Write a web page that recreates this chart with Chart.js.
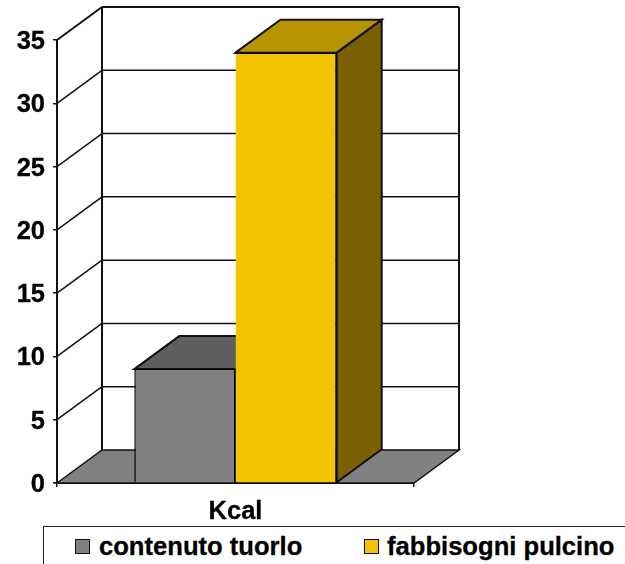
<!DOCTYPE html>
<html>
<head>
<meta charset="utf-8">
<title>Kcal</title>
<script src="https://cdn.jsdelivr.net/npm/chart.js@4"></script>
<style>
    html, body { margin: 0; padding: 0; background: #fff; overflow: hidden; }
    #wrap { position: relative; width: 625px; height: 564px; overflow: hidden; }
    #legenda {
        position: absolute; left: 43px; top: 526px; width: 640px; height: 60px;
        border: 1.5px solid #222; box-sizing: border-box; background: #fff;
        font: bold 25.6px "Liberation Sans", Arial, sans-serif; color: #000;
        -webkit-text-stroke: 0.3px #000;
    }
    #legenda span { position: absolute; top: 4px; line-height: 30px; white-space: nowrap; }
    #legenda i { position: absolute; top: 12px; width: 15px; height: 15px; box-sizing: border-box; border: 1.5px solid #111; }
</style>
</head>
<body>
<div id="wrap">
    <canvas id="grafico" width="625" height="564"></canvas>
    <div id="legenda"></div>
</div>
<script>
const categorie = ["Kcal"];
const nomiSerie = ["contenuto tuorlo", "fabbisogni pulcino"];
const tuorlo = [9];
const pulcino = [34];
const valoreMax = 35;
const passoAsse = 5;

const coloriFronte = ["#808080", "#F4C400"];
const coloriSopra = ["#5F5F5F", "#B89400"];
const coloriLato = ["#404040", "#7A6000"];
const fontAssi = { family: "'Liberation Sans', Arial, sans-serif", size: 25.5, weight: "bold" };

// profondita' della scatola 3D
const profX = 45;
const profY = 33;

function poligono(ctx, punti, riempi) {
    ctx.beginPath();
    punti.forEach(function (p, i) {
        if (i === 0) ctx.moveTo(p[0], p[1]);
        else ctx.lineTo(p[0], p[1]);
    });
    ctx.closePath();
    if (riempi) { ctx.fillStyle = riempi; ctx.fill(); }
    ctx.stroke();
}

function linea(ctx, x1, y1, x2, y2) {
    ctx.beginPath();
    ctx.moveTo(x1, y1);
    ctx.lineTo(x2, y2);
    ctx.stroke();
}

// pareti, pavimento e facce superiori/laterali delle barre
const scatola3d = {
    id: "scatola3d",
    // le etichette dell'asse y stanno un po' sotto la tacca
    afterLayout(chart) {
        chart.scales.y.getLabelItems().forEach(function (item) {
            item.options.translation[1] += 2;
        });
    },
    beforeDatasetsDraw(chart) {
        const ctx = chart.ctx;
        const yScale = chart.scales.y;
        const area = chart.chartArea;
        const base = yScale.getPixelForValue(0);
        const cima = yScale.getPixelForValue(valoreMax);

        ctx.save();
        ctx.strokeStyle = "#111";
        ctx.lineJoin = "miter";

        ctx.lineWidth = 1.5;
        for (let v = passoAsse; v < valoreMax; v += passoAsse) {
            const y = yScale.getPixelForValue(v);
            linea(ctx, area.left, y, area.left + profX, y - profY);
            linea(ctx, area.left + profX, y - profY, area.right + profX, y - profY);
        }

        poligono(ctx, [
            [area.left, base], [area.left + profX, base - profY],
            [area.right + profX, base - profY], [area.right, base]
        ], "#808080");

        ctx.lineWidth = 2;
        linea(ctx, area.left, cima, area.left + profX, cima - profY);
        linea(ctx, area.left + profX, cima - profY, area.right + profX, cima - profY);
        linea(ctx, area.left + profX, cima - profY, area.left + profX, base - profY);
        linea(ctx, area.right + profX, cima - profY, area.right + profX, base - profY);

        chart.data.datasets.forEach(function (ds, i) {
            const barra = chart.getDatasetMeta(i).data[0];
            const sx = barra.x - barra.width / 2;
            const dx = barra.x + barra.width / 2;
            poligono(ctx, [
                [dx, barra.y], [dx + profX, barra.y - profY],
                [dx + profX, barra.base - profY], [dx, barra.base]
            ], coloriLato[i]);
            poligono(ctx, [
                [sx, barra.y], [sx + profX, barra.y - profY],
                [dx + profX, barra.y - profY], [dx, barra.y]
            ], coloriSopra[i]);
        });
        ctx.restore();
    }
};

new Chart(document.getElementById("grafico"), {
    type: "bar",
    data: {
        labels: categorie,
        datasets: [
            {
                label: nomiSerie[0], data: tuorlo, backgroundColor: coloriFronte[0],
                borderWidth: { top: 1.5, right: 1.5, bottom: 0, left: 1.5 }
            },
            {
                label: nomiSerie[1], data: pulcino, backgroundColor: coloriFronte[1],
                borderWidth: { top: 1.5, right: 1.5, bottom: 0, left: 0 }
            }
        ]
    },
    options: {
        responsive: false,
        animation: false,
        layout: { padding: { top: 40, right: 211, bottom: 36, left: 0 } },
        datasets: {
            bar: {
                barPercentage: 1,
                categoryPercentage: 0.567,
                borderColor: "#000"
            }
        },
        plugins: { legend: { display: false }, tooltip: { enabled: false } },
        scales: {
            x: {
                afterFit: function (s) { s.height = 45; },
                border: { color: "#111", width: 2 },
                grid: { drawOnChartArea: false, color: "#111", tickLength: 4, lineWidth: 1.5 },
                ticks: {
                    color: "#000", font: fontAssi, padding: 10, maxRotation: 0,
                    textStrokeColor: "#000", textStrokeWidth: 0.3
                }
            },
            y: {
                min: 0,
                max: valoreMax,
                afterFit: function (s) { s.width = 57; },
                border: { color: "#111", width: 2 },
                grid: { drawOnChartArea: false, color: "#111", tickLength: 4, lineWidth: 1.5 },
                ticks: {
                    stepSize: passoAsse, color: "#000", font: fontAssi, padding: 8,
                    textStrokeColor: "#000", textStrokeWidth: 0.3
                }
            }
        }
    },
    plugins: [scatola3d]
});

// legenda in HTML, con il riquadro che prosegue oltre il bordo destro
const legenda = document.getElementById("legenda");
const posizioni = [[31, 55], [320, 343]];
nomiSerie.forEach(function (nome, i) {
    legenda.innerHTML += `
        <i style="left:${posizioni[i][0]}px; background:${coloriFronte[i]};"></i>
        <span style="left:${posizioni[i][1]}px;">${nome}</span>
    `;
});
</script>
</body>
</html>
